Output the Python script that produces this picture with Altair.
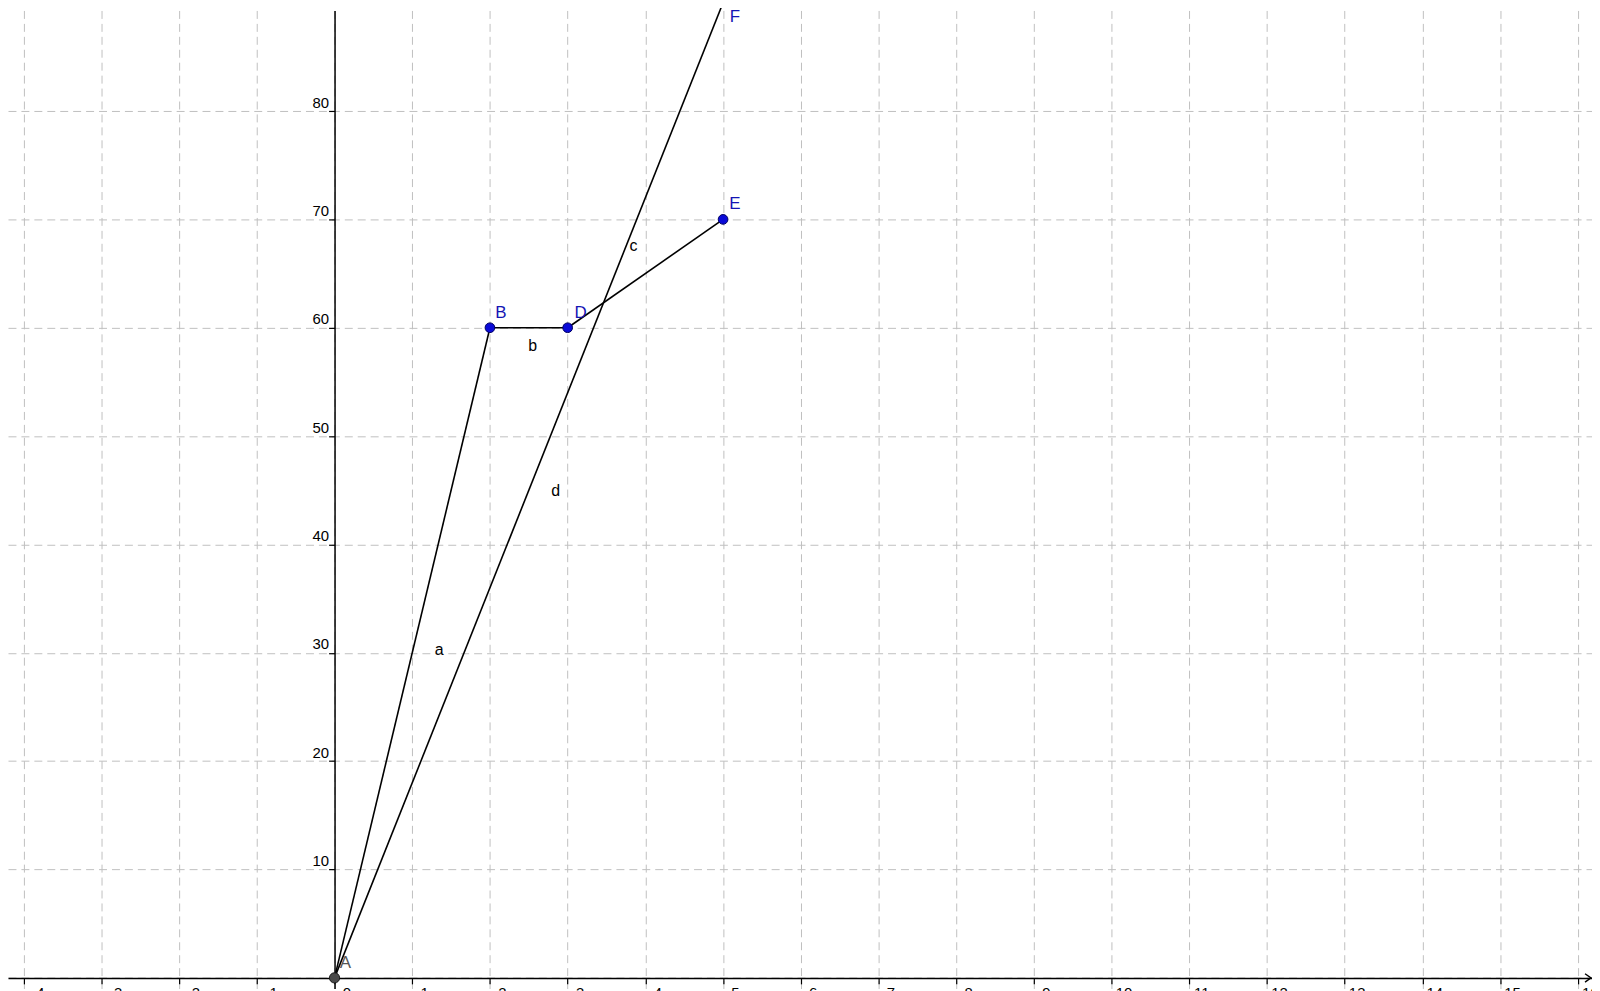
import altair as alt
import pandas as pd

# ---- data ----
point_names = ["A", "B", "D", "E", "F"]
point_x = [0, 2, 3, 5, 5]
point_y = [0, 60, 60, 70, 90]

seg_names = ["a", "b", "c", "d"]
seg_from = ["A", "B", "D", "A"]
seg_to = ["B", "D", "E", "F"]

x_ticks = list(range(-4, 17))
y_ticks = list(range(0, 100, 10))

X_MIN, X_MAX = -4.202, 16.182
Y_MIN, Y_MAX = -0.983, 89.28

pts = pd.DataFrame({"name": point_names, "x": point_x, "y": point_y})
lookup = {n: (x, y) for n, x, y in zip(point_names, point_x, point_y)}
segs = pd.DataFrame({
    "name": seg_names,
    "x": [lookup[f][0] for f in seg_from],
    "y": [lookup[f][1] for f in seg_from],
    "x2": [lookup[t][0] for t in seg_to],
    "y2": [lookup[t][1] for t in seg_to],
})
segs["mx"] = (segs["x"] + segs["x2"]) / 2
segs["my"] = (segs["y"] + segs["y2"]) / 2

FONT = "Liberation Sans"

xs = alt.Scale(domain=[X_MIN, X_MAX], nice=False, zero=False)
ys = alt.Scale(domain=[Y_MIN, Y_MAX], nice=False, zero=False)

x_axis = alt.Axis(values=x_ticks, orient="bottom", offset=-10.7, grid=True,
                  gridDash=[8, 5], gridColor="#c0c0c0", gridWidth=1,
                  domainColor="black", domainWidth=1.5, tickColor="black",
                  tickSize=6, tickWidth=1.2, labelFont=FONT, labelFontSize=15,
                  labelColor="black", labelOffset=12, labelPadding=2,
                  format="d", title=None)
y_axis = alt.Axis(values=y_ticks, orient="left", offset=-328.2, grid=True,
                  gridDash=[8, 5], gridColor="#c0c0c0", gridWidth=1,
                  domainColor="black", domainWidth=1.5, tickColor="black",
                  tickSize=6, tickWidth=1.2, labelFont=FONT, labelFontSize=15,
                  labelColor="black", labelPadding=0, labelBaseline="alphabetic",
                  labelOffset=-4, format="d",
                  labelExpr="datum.value == 0 ? '' : datum.label", title=None)

base_axes = alt.Chart(pts).mark_point(opacity=0).encode(
    x=alt.X("x:Q", scale=xs, axis=x_axis),
    y=alt.Y("y:Q", scale=ys, axis=y_axis),
)

lines = alt.Chart(segs).mark_rule(color="black", strokeWidth=1.6).encode(
    x=alt.X("x:Q", scale=xs), y=alt.Y("y:Q", scale=ys),
    x2="x2:Q", y2="y2:Q",
)

arrow_df = pd.DataFrame({"x": [X_MAX - 1.0 / 78.1], "y": [0]})
arrow = alt.Chart(arrow_df).mark_point(
    shape="M-1,-0.7L0,0L-1,0.7", filled=False, stroke="black",
    strokeWidth=1.4, size=144, opacity=1
).encode(x=alt.X("x:Q", scale=xs), y=alt.Y("y:Q", scale=ys))

blue_pts = alt.Chart(pts[pts.name != "A"]).mark_point(
    filled=True, fill="#0a0ad8", stroke="#000060", strokeWidth=1,
    size=95, opacity=1
).encode(x=alt.X("x:Q", scale=xs), y=alt.Y("y:Q", scale=ys))

a_pt = alt.Chart(pts[pts.name == "A"]).mark_point(
    filled=True, fill="#4a4a4a", stroke="#1a1a1a", strokeWidth=1,
    size=105, opacity=1
).encode(x=alt.X("x:Q", scale=xs), y=alt.Y("y:Q", scale=ys))

layers = [base_axes, lines, arrow, blue_pts, a_pt]

# point labels
pt_label_off = {"A": (11, -15), "B": (11, -15), "D": (13, -15), "E": (12, -15), "F": (12, 14)}
for n in point_names:
    dx, dy = pt_label_off[n]
    color = "#555555" if n == "A" else "#1414b4"
    layers.append(
        alt.Chart(pts[pts.name == n]).mark_text(
            font=FONT, fontSize=17, color=color, dx=dx, dy=dy, align="center",
            baseline="middle"
        ).encode(x=alt.X("x:Q", scale=xs), y=alt.Y("y:Q", scale=ys), text="name:N")
    )

# segment labels
seg_label_off = {"a": (27, -3), "b": (4, 18), "c": (-12, -28), "d": (27, 1)}
for n in seg_names:
    dx, dy = seg_label_off[n]
    layers.append(
        alt.Chart(segs[segs.name == n]).mark_text(
            font=FONT, fontSize=16, color="black", dx=dx, dy=dy, align="center",
            baseline="middle"
        ).encode(x=alt.X("mx:Q", scale=xs), y=alt.Y("my:Q", scale=ys), text="name:N")
    )

chart = alt.layer(*layers).properties(
    width=1592, height=983, autosize=alt.AutoSizeParams(type="none"), padding=0,
    background="white",
).configure_view(stroke=None)

chart.save("out.html", embed_options={"renderer": "svg", "actions": False})
